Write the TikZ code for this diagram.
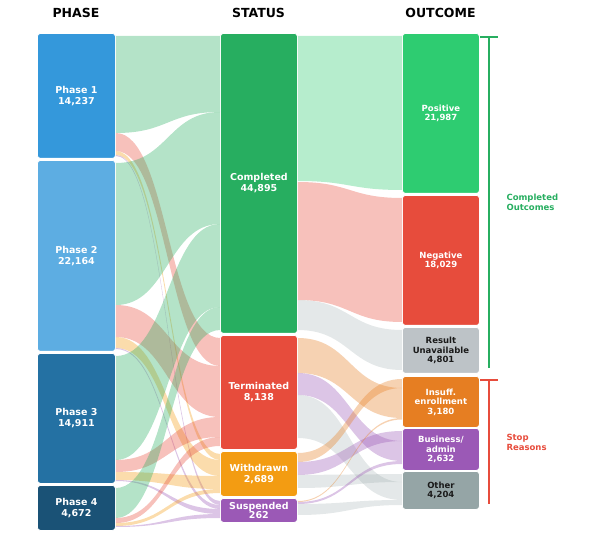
\documentclass[tikz,border=0pt]{standalone}
\usepackage{fontspec}
\setmainfont{DejaVu Sans}
\usetikzlibrary{calc}
\definecolor{cp1}{HTML}{3498DB}
\definecolor{cp2}{HTML}{5DADE2}
\definecolor{cp3}{HTML}{2471A3}
\definecolor{cp4}{HTML}{1A5276}
\definecolor{ccomp}{HTML}{27AE60}
\definecolor{cterm}{HTML}{E74C3C}
\definecolor{cwith}{HTML}{F39C12}
\definecolor{csusp}{HTML}{9B59B6}
\definecolor{cpos}{HTML}{2ECC71}
\definecolor{cneg}{HTML}{E74C3C}
\definecolor{cru}{HTML}{BDC3C7}
\definecolor{cins}{HTML}{E67E22}
\definecolor{cbus}{HTML}{9B59B6}
\definecolor{coth}{HTML}{95A5A6}
\definecolor{cdark}{HTML}{1A1A1A}
\tikzset{
  box/.style={draw=white, line width=0.8pt, rounded corners=3pt, anchor=north west,
    inner sep=1pt, align=center, text=white, font=\bfseries\fontsize{9.5}{11}\selectfont},
  rbox/.style={box, font=\bfseries\fontsize{8.5}{9.5}\selectfont},
  hdr/.style={font=\bfseries\fontsize{12.5}{14}\selectfont, text=black},
  brlabel/.style={anchor=west, align=left, font=\bfseries\fontsize{8.5}{10}\selectfont},
  fcomp/.style={fill=ccomp, fill opacity=0.35},
  fterm/.style={fill=cterm, fill opacity=0.35},
  fwith/.style={fill=cwith, fill opacity=0.35},
  fsusp/.style={fill=csusp, fill opacity=0.35},
  fpos/.style={fill=cpos, fill opacity=0.35},
  fneg/.style={fill=cneg, fill opacity=0.35},
  fins/.style={fill=cins, fill opacity=0.35},
  fbus/.style={fill=cbus, fill opacity=0.35},
  fgray/.style={fill=coth, fill opacity=0.25},
  brG/.style={draw=ccomp, line width=1.2pt},
  brR/.style={draw=cterm, line width=1.2pt},
}
\newcommand\band[7]{%
  \fill[#7] let \p1=(#1.east), \p2=(#4.west), \p3=($(\p1)!0.5!(\p2)$) in
    (\x1,-#2pt) .. controls (\x3,-#2pt) and (\x3,-#5pt) .. (\x2,-#5pt)
    -- (\x2,-#6pt) .. controls (\x3,-#6pt) and (\x3,-#3pt) .. (\x1,-#3pt) -- cycle;}
\begin{document}
\begin{tikzpicture}[x=1pt,y=-1pt]
\useasboundingbox (0,0) rectangle (600,545);
% headers
\node[hdr] (hphase) at (76,13) {PHASE};
\node[hdr] (hstatus) at (258.5,13) {STATUS};
\node[hdr] (houtcome) at (440.5,13) {OUTCOME};
% phase nodes
\node[box, fill=cp1, minimum width=78pt, minimum height=125pt] (p1) at (37,33) {Phase 1\\14,237};
\node[box, fill=cp2, minimum width=78pt, minimum height=191pt] (p2) at (37,160) {Phase 2\\22,164};
\node[box, fill=cp3, minimum width=78pt, minimum height=130pt] (p3) at (37,353) {Phase 3\\14,911};
\node[box, fill=cp4, minimum width=78pt, minimum height=45pt] (p4) at (37,485) {Phase 4\\4,672};
% status nodes
\node[box, fill=ccomp, minimum width=77pt, minimum height=300pt] (comp) at (220,33) {Completed\\44,895};
\node[box, fill=cterm, minimum width=77pt, minimum height=114pt] (term) at (220,335) {Terminated\\8,138};
\node[box, fill=cwith, minimum width=77pt, minimum height=45pt] (with) at (220,451) {Withdrawn\\2,689};
\node[box, fill=csusp, minimum width=77pt, minimum height=24pt, font=\bfseries\fontsize{9.5}{9.5}\selectfont] (susp) at (220,498) {Suspended\\262};
% outcome nodes
\node[rbox, fill=cpos, minimum width=77pt, minimum height=160pt] (pos) at (402,33) {Positive\\21,987};
\node[rbox, fill=cneg, minimum width=77pt, minimum height=130pt] (neg) at (402,195) {Negative\\18,029};
\node[rbox, fill=cru, text=cdark, minimum width=77pt, minimum height=46pt] (ru) at (402,327) {Result\\Unavailable\\4,801};
\node[rbox, fill=cins, minimum width=77pt, minimum height=51pt] (ins) at (402,376) {Insuff.\\enrollment\\3,180};
\node[rbox, fill=cbus, minimum width=77pt, minimum height=42pt] (bus) at (402,428) {Business/\\admin\\2,632};
\node[rbox, fill=coth, text=cdark, minimum width=77pt, minimum height=38pt] (oth) at (402,471) {Other\\4,204};
% phase -> status flows
\band{p1}{36}{133}{comp}{36}{112}{fcomp}
\band{p1}{133}{151}{term}{338}{366}{fterm}
\band{p1}{151}{155}{with}{454}{460}{fwith}
\band{p1}{155}{156}{susp}{501}{505}{fsusp}
\band{p2}{163}{305}{comp}{112}{224}{fcomp}
\band{p2}{305}{337}{term}{366}{417}{fterm}
\band{p2}{337}{348}{with}{460}{476}{fwith}
\band{p2}{348}{349}{susp}{505}{509}{fsusp}
\band{p3}{356}{460}{comp}{224}{307}{fcomp}
\band{p3}{460}{472}{term}{417}{437}{fterm}
\band{p3}{472}{480}{with}{476}{489}{fwith}
\band{p3}{480}{481}{susp}{509}{514}{fsusp}
\band{p4}{488}{518}{comp}{307}{330}{fcomp}
\band{p4}{518}{523}{term}{437}{446}{fterm}
\band{p4}{523}{526}{with}{489}{493}{fwith}
\band{p4}{526}{527}{susp}{514}{518}{fsusp}
% status -> outcome flows
\band{comp}{36}{181}{pos}{36}{190}{fpos}
\band{comp}{182}{300}{neg}{198}{322}{fneg}
\band{comp}{300}{330}{ru}{330}{370}{fgray}
\band{term}{338}{373}{ins}{388}{418}{fins}
\band{term}{373}{395}{bus}{441}{461}{fbus}
\band{term}{395}{438}{oth}{482}{500}{fgray}
\band{with}{453}{462}{ins}{379}{388}{fins}
\band{with}{462}{475}{bus}{431}{441}{fbus}
\band{with}{475}{488}{oth}{474}{482}{fgray}
\band{susp}{501}{502}{ins}{418}{419.5}{fins}
\band{susp}{502}{504}{bus}{461}{464}{fbus}
\band{susp}{504}{515}{oth}{500}{505}{fgray}
% brackets
\draw[brG] (481,38.5) -- (481,37) -- (497,37) -- (497,38.5);
\draw[brG] (489,37) -- (489,368);
\draw[brR] (481,381.5) -- (481,380) -- (497,380) -- (497,381.5);
\draw[brR] (489,380) -- (489,504);
\node[brlabel, text=ccomp] (lco) at (503,202) {Completed\\Outcomes};
\node[brlabel, text=cterm] (lsr) at (503,442) {Stop\\Reasons};
\end{tikzpicture}
\end{document}
